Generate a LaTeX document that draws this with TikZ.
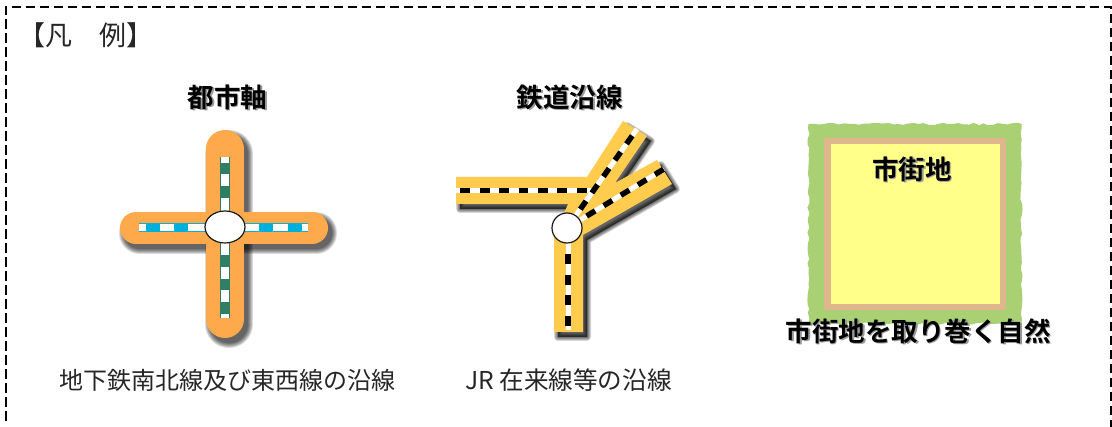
\documentclass[tikz,border=0pt]{standalone}
\usepackage{fontspec}
\setmainfont{Noto Sans CJK JP}[BoldFont={Noto Sans CJK JP Bold}]
\usetikzlibrary{calc,shapes.geometric,decorations.pathmorphing}
\definecolor{axisband}{HTML}{FFA94D}
\definecolor{raildark}{HTML}{2F7F66}
\definecolor{railblue}{HTML}{00B0DC}
\definecolor{railband}{HTML}{FFCC4D}
\definecolor{natgreen}{HTML}{A9D173}
\definecolor{tanring}{HTML}{E0B78C}
\definecolor{cityyellow}{HTML}{FFFF8A}
\tikzset{
  x=1pt,y=-1pt,
  lbl/.style={font=\fontsize{24}{24}\selectfont,inner sep=0pt,text=black!85},
  legendlbl/.style={font=\fontsize{27}{27}\selectfont,inner sep=0pt,text=black!85},
  head/.style={font=\fontsize{26.5}{26.5}\selectfont\bfseries,inner sep=0pt,text=black},
  shadowtext/.style={font=\fontsize{26.5}{26.5}\selectfont\bfseries,inner sep=0pt,text=black!40},
  station/.style={draw=black!90,line width=1.2pt,fill=white,inner sep=0pt},
}
% soft shadow: stacked translucent strokes
\newcommand{\softstroke}[2]{% width, path
  \foreach \w in {10,8,6,4,2,0.5}{
    \draw[black,opacity=0.14,line width={#1+\w pt},line cap=round] #2;
  }
}
\newcommand{\softfill}[1]{%
  \foreach \w in {8,6.5,5,3.5,2,0.5}{
    \draw[black,opacity=0.14,fill=black,line width=\w pt,line join=round] #1;
  }
}
\newcommand{\headtext}[4]{% name, x, y, text
  \node[head] (#1) at (#2,#3) {#4};
}
\begin{document}
\begin{tikzpicture}
\useasboundingbox (0,0) rectangle (1112,427);
\fill[white] (0,0) rectangle (1112,427);
% frame
\coordinate (fbl) at (5.5,421);
\coordinate (ftl) at (5.5,7);
\coordinate (ftr) at (1110.5,7);
\coordinate (fbr) at (1110.5,427);
\draw[black,line width=2pt,dash pattern=on 9.5pt off 4.5pt] (fbl) -- (ftl) -- (ftr) -- (fbr);
\node[legendlbl,anchor=west] (legend) at (18.5,35) {【凡　例】};
% cross
\begin{scope}[shift={(4,5)}]
  \softstroke{38pt}{(225,149) -- (225,319)}
  \softstroke{32pt}{(136,228) -- (312,228)}
\end{scope}
\draw[axisband,line width=38pt,line cap=round] (225,149) -- (225,319);
\draw[axisband,line width=32pt,line cap=round] (136,228) -- (312,228);
\coordinate (vt) at (225,157); \coordinate (vb) at (225,318);
\coordinate (hl) at (139,227.5); \coordinate (hr) at (308,227.5);
\draw[raildark,line width=10.5pt] (vt) -- (vb);
\draw[white,line width=8pt,dash pattern=on 5.6pt off 11.7pt on 11.7pt off 11.7pt on 57pt off 12.5pt on 11.5pt off 11.7pt on 11.7pt off 11.7pt on 6pt] (vt) -- (vb);
\draw[railblue,line width=9pt] (hl) -- (hr);
\draw[white,line width=7.5pt,dash pattern=on 7pt off 14pt on 14pt off 14.3pt on 71pt off 14pt on 14.4pt off 14pt on 7pt] (hl) -- (hr);
\node[station,ellipse,minimum width=40pt,minimum height=32pt] (hub) at (225,227) {};
% railway
\def\railshape{(456,177) -- (587,177) -- (623,121) -- (647,136) -- (615,183) -- (657,160) -- (672,184) -- (583,235) -- (583,332) -- (554,332) -- (554,237) -- (568,204) -- (456,204) -- cycle}
\begin{scope}[shift={(4,5)}]
  \softfill{\railshape}
\end{scope}
\fill[railband] \railshape;
\coordinate (rc) at (567,228);
\coordinate (ra) at (637,129);
\coordinate (rb) at (664,169);
\coordinate (rv) at (568,330);
\coordinate (rvt) at (568,228);
\coordinate (rl) at (456,190.5);
\coordinate (rj) at (594,190.5);
\draw[white,line width=5pt] (rl) -- (rj);
\draw[black,line width=5.5pt,dash pattern=on 9.7pt off 9.7pt,dash phase=15pt] (rl) -- (rj);
\foreach \p/\q in {rc/ra,rc/rb}{
  \draw[white,line width=5pt] (\p) -- (\q);
  \draw[black,line width=5.5pt,dash pattern=on 10pt off 10pt,dash phase=-3pt] (\p) -- (\q);
}
\draw[white,line width=5pt] (rvt) -- (rv);
\draw[black,line width=5.5pt,dash pattern=on 10pt off 10.6pt,dash phase=-5.4pt] (rvt) -- (rv);
\node[station,circle,minimum size=30pt] (rhub) at (rc) {};
% town
\pgfmathsetseed{7}
\fill[natgreen,decorate,decoration={random steps,segment length=5pt,amplitude=1.1pt}] (808.5,124) -- (1021.5,124) -- (1021.5,323.5) -- (808.5,323.5) -- cycle;
\fill[tanring] (824,138) rectangle (1006,310);
\fill[cityyellow] (831,144) rectangle (1000,304);
% headings (gray copy gives the drop shadow)
\foreach \n/\x/\y/\t in {a/227.5/97/都市軸,b/569.7/97/鉄道沿線,c/912/169/市街地,d/918.3/331/市街地を取り巻く自然}{
  \node[shadowtext] at (\x+1.6,\y+1.6) {\t};
}
\headtext{axis}{227.5}{97}{都市軸}
\headtext{rail}{569.7}{97}{鉄道沿線}
\headtext{city}{912}{169}{市街地}
\headtext{nature}{918.3}{331}{市街地を取り巻く自然}
% captions
\node[lbl] (cap1) at (227.5,380) {地下鉄南北線及び東西線の沿線};
\node[lbl,font=\fontsize{24.6}{24.6}\selectfont] (cap2) at (568.5,380) {JR 在来線等の沿線};
\end{tikzpicture}
\end{document}
